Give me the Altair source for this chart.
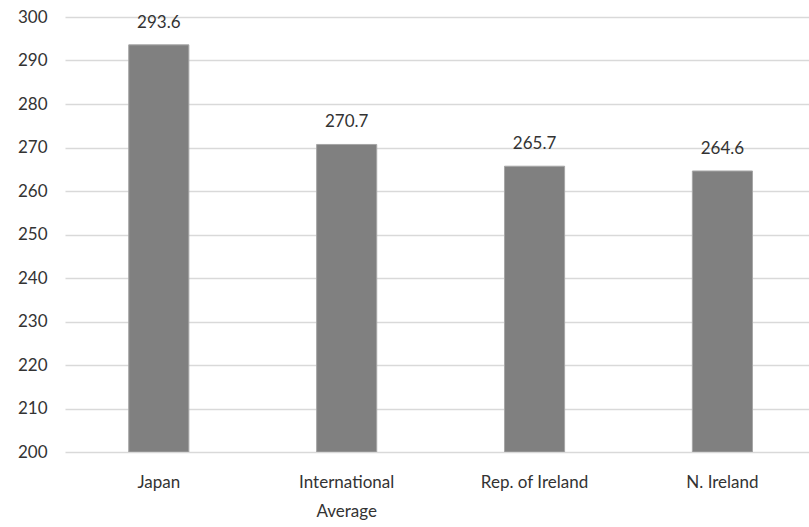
import altair as alt
import pandas as pd

categories = ["Japan", "International Average", "Rep. of Ireland", "N. Ireland"]
values = [293.6, 270.7, 265.7, 264.6]

df = pd.DataFrame({"cat": categories, "val": values})
FONT = "Lato"

x = alt.X("cat:N", sort=categories, title=None,
          scale=alt.Scale(paddingInner=0.68, paddingOuter=0.32, align=0.53),
          axis=alt.Axis(labelAngle=0, labelFont=FONT, labelFontSize=17, labelColor="#333333",
                        domain=False, ticks=False, grid=False, labelPadding=22, labelLineHeight=29,
                        labelExpr="datum.value == 'International Average' ? ['International','Average'] : datum.value"))
y = alt.Y("val:Q", title=None,
          scale=alt.Scale(domain=[200, 300], nice=False, zero=False),
          axis=alt.Axis(values=list(range(200, 301, 10)), labelFont=FONT, labelFontSize=17,
                        labelColor="#333333", domain=False, ticks=False, labelPadding=18,
                        gridColor="#d9d9d9", gridWidth=1.5))

bars = alt.Chart(df).mark_bar(color="#808080", stroke="#a6a6a6", strokeWidth=1, clip=True).encode(
    x=x, y=y, y2=alt.datum(200))
labels = alt.Chart(df).mark_text(dy=-13, font=FONT, fontSize=17, color="#333333", baseline="bottom").encode(
    x=alt.X("cat:N", sort=categories), y=alt.Y("val:Q"),
    text=alt.Text("val:Q", format=".1f"))

chart = (bars + labels).properties(
    width=744, height=435, background="white",
    autosize=alt.AutoSizeParams(type="none"),
    padding={"left": 65, "top": 17, "right": 0, "bottom": 75},
).configure_view(strokeWidth=0).configure_axis(domain=False).configure_axisX(grid=False)

chart.save("out.html", embed_options={"renderer": "svg", "actions": False})
